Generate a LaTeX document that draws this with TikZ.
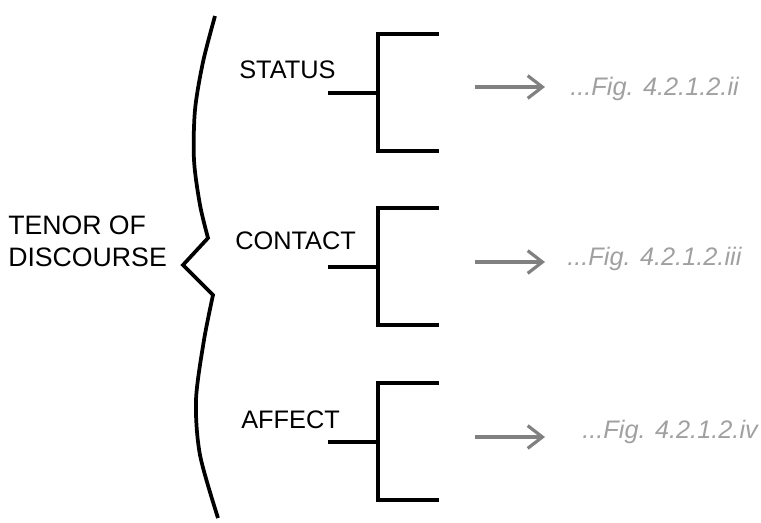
\documentclass[tikz,border=0pt]{standalone}
\usepackage{fontspec}
\setsansfont{Liberation Sans}
\usetikzlibrary{arrows.meta}
\definecolor{arrgray}{HTML}{808080}
\definecolor{figgray}{HTML}{A0A0A0}
\tikzset{
  brace/.style={line width=2.8pt, line join=miter},
  fork/.style={line width=2.5pt, line join=miter},
  cat/.style={font=\sffamily\fontsize{19}{24}\selectfont, inner sep=0pt, anchor=base west},
  figref/.style={font=\sffamily\itshape\fontsize{19}{24}\selectfont, text=figgray, inner sep=0pt, anchor=base west},
  toref/.style={line width=2.4pt, draw=arrgray, -{Straight Barb[length=11pt,width=17pt]}}
}
\begin{document}
\begin{tikzpicture}[x=0.75pt,y=-0.75pt]
  \useasboundingbox (0,0) rectangle (761,522);
  % the big brace
  \draw[brace] plot[smooth] coordinates {(215,16) (203,62) (195,110) (194,160) (200,205) (208,238)}
    -- (183,265) -- plot[smooth] coordinates {(213,295) (204,340) (196,400) (200,455) (218,518)};
  \node[cat, anchor=west, align=left, font=\sffamily\fontsize{20}{24}\selectfont] (tenor) at (8,241) {TENOR OF\\DISCOURSE};

  \foreach[count=\i] \y/\lbl/\lx/\ly/\ay/\fig/\fx/\fy in
      {93/STATUS/239/78/87/ii/570/95,
       267/CONTACT/235/249/262/iii/567/265,
       442/AFFECT/241/428/437/iv/582/438} {
    \node[cat] (lbl\i) at (\lx,\ly) {\lbl};
    \coordinate (s\i) at (328,\y);
    \coordinate (m\i) at (378,\y);
    \draw[fork] (s\i) -- (m\i);
    \draw[fork] (439,\y-59) -- (378,\y-59) -- (378,\y+58) -- (439,\y+58);
    \coordinate (a\i) at (475,\ay);
    \coordinate (b\i) at (545,\ay);
    \draw[toref] (a\i) -- (b\i);
    \node[figref] (fig\i) at (\fx,\fy) {...Fig. 4.2.1.2.\fig};
  }
\end{tikzpicture}
\end{document}
